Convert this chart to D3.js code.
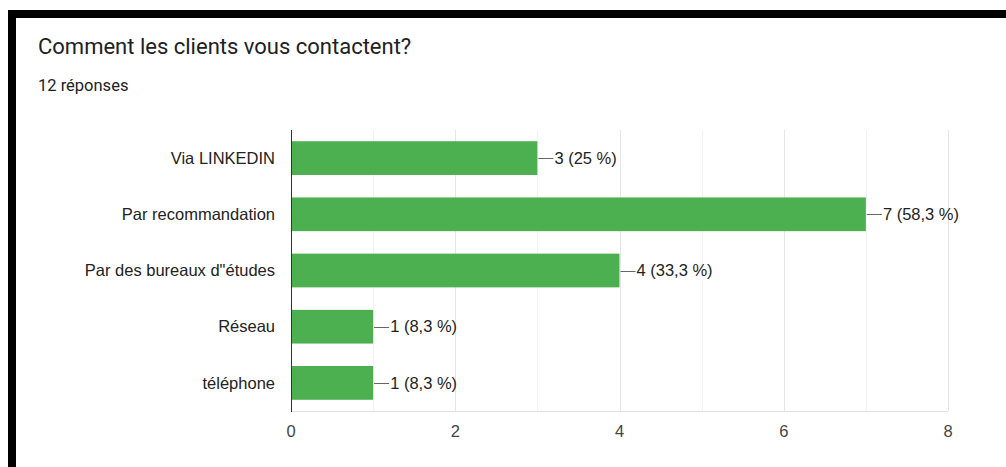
<!DOCTYPE html>
<html>
    <head>
        <script type="text/javascript" src="https://cdn.jsdelivr.net/npm/d3@7"></script>
        <style type="text/css">
            body { margin: 0; background: white; }
            text { font-family: "Liberation Sans", Arial, sans-serif; fill: #222; }
        </style>
    </head>
    <body>
        <script type="text/javascript">

            // data
            var categories = ["Via LINKEDIN", "Par recommandation", "Par des bureaux d\"études", "Réseau", "téléphone"];
            var counts = [3, 7, 4, 1, 1];
            var percents = ["25", "58,3", "33,3", "8,3", "8,3"];
            var xTicks = [0, 2, 4, 6, 8];

            var w = 1006, h = 467;
            // plot box (note: "top" is reserved on window, so use plot* names)
            var plotLeft = 291, plotRight = 948, plotTop = 130, plotBottom = 411;

            var svg = d3.select("body").append("svg")
                        .attr("width", w)
                        .attr("height", h);

            svg.append("rect").attr("width", w).attr("height", h).attr("fill", "white");

            // black frame (screenshot edge)
            svg.append("rect").attr("x", 8).attr("y", 10).attr("width", w - 8).attr("height", 8).attr("fill", "#000");
            svg.append("rect").attr("x", 8).attr("y", 10).attr("width", 8).attr("height", h - 10).attr("fill", "#000");

            svg.append("text")
                .attr("x", 38).attr("y", 54)
                .style("font-family", "Roboto, sans-serif")
                .style("font-size", "22px")
                .style("fill", "#202124")
                .text("Comment les clients vous contactent?");

            svg.append("text")
                .attr("x", 38).attr("y", 91)
                .style("font-family", "Roboto, sans-serif")
                .style("font-size", "16.5px")
                .style("fill", "#202124")
                .text("12 réponses");

            var x = d3.scaleLinear().domain([0, 8]).range([plotLeft, plotRight]);
            var y = d3.scaleBand().domain(categories).range([plotTop, plotBottom]).paddingInner(0.4).paddingOuter(0.2);

            // gridlines, one per unit
            svg.selectAll("line.grid")
                .data(d3.range(1, 9))
                .enter().append("line")
                .attr("class", "grid")
                .attr("x1", function(d) { return Math.round(x(d)) + 0.5; })
                .attr("x2", function(d) { return Math.round(x(d)) + 0.5; })
                .attr("y1", plotTop).attr("y2", plotBottom)
                .attr("stroke", function(d) { return d % 2 === 0 ? "#e6e6e6" : "#f2f2f2"; })
                .attr("stroke-width", 1);

            svg.append("line")
                .attr("x1", plotLeft).attr("x2", plotRight)
                .attr("y1", plotBottom + 0.5).attr("y2", plotBottom + 0.5)
                .attr("stroke", "#e0e0e0");

            var bars = svg.selectAll("g.bar")
                .data(categories)
                .enter().append("g")
                .attr("class", "bar");

            bars.append("rect")
                .attr("x", x(0))
                .attr("y", function(d) { return y(d); })
                .attr("width", function(d, i) { return x(counts[i]) - x(0); })
                .attr("height", y.bandwidth())
                .attr("fill", "#4caf50");

            bars.append("line")
                .attr("x1", function(d, i) { return x(counts[i]) + 1; })
                .attr("x2", function(d, i) { return x(counts[i]) + 16; })
                .attr("y1", function(d) { return Math.round(y(d) + y.bandwidth() / 2) + 0.5; })
                .attr("y2", function(d) { return Math.round(y(d) + y.bandwidth() / 2) + 0.5; })
                .attr("stroke", "#666");

            bars.append("text")
                .attr("x", function(d, i) { return x(counts[i]) + 17; })
                .attr("y", function(d) { return y(d) + y.bandwidth() / 2; })
                .attr("dy", "0.35em")
                .style("font-size", "16.5px")
                .text(function(d, i) { return counts[i] + " (" + percents[i] + " %)"; });

            // category labels
            svg.selectAll("text.cat")
                .data(categories)
                .enter().append("text")
                .attr("class", "cat")
                .attr("x", 275)
                .attr("y", function(d) { return y(d) + y.bandwidth() / 2; })
                .attr("dy", "0.35em")
                .attr("text-anchor", "end")
                .style("font-size", "16.5px")
                .text(function(d) { return d; });

            svg.append("line")
                .attr("x1", plotLeft + 0.5).attr("x2", plotLeft + 0.5)
                .attr("y1", plotTop).attr("y2", plotBottom + 1)
                .attr("stroke", "#333");

            svg.selectAll("text.tick")
                .data(xTicks)
                .enter().append("text")
                .attr("class", "tick")
                .attr("x", function(d) { return x(d); })
                .attr("y", 437)
                .attr("text-anchor", "middle")
                .style("font-size", "16.5px")
                .style("fill", "#444")
                .text(function(d) { return d; });

        </script>
    </body>
</html>
